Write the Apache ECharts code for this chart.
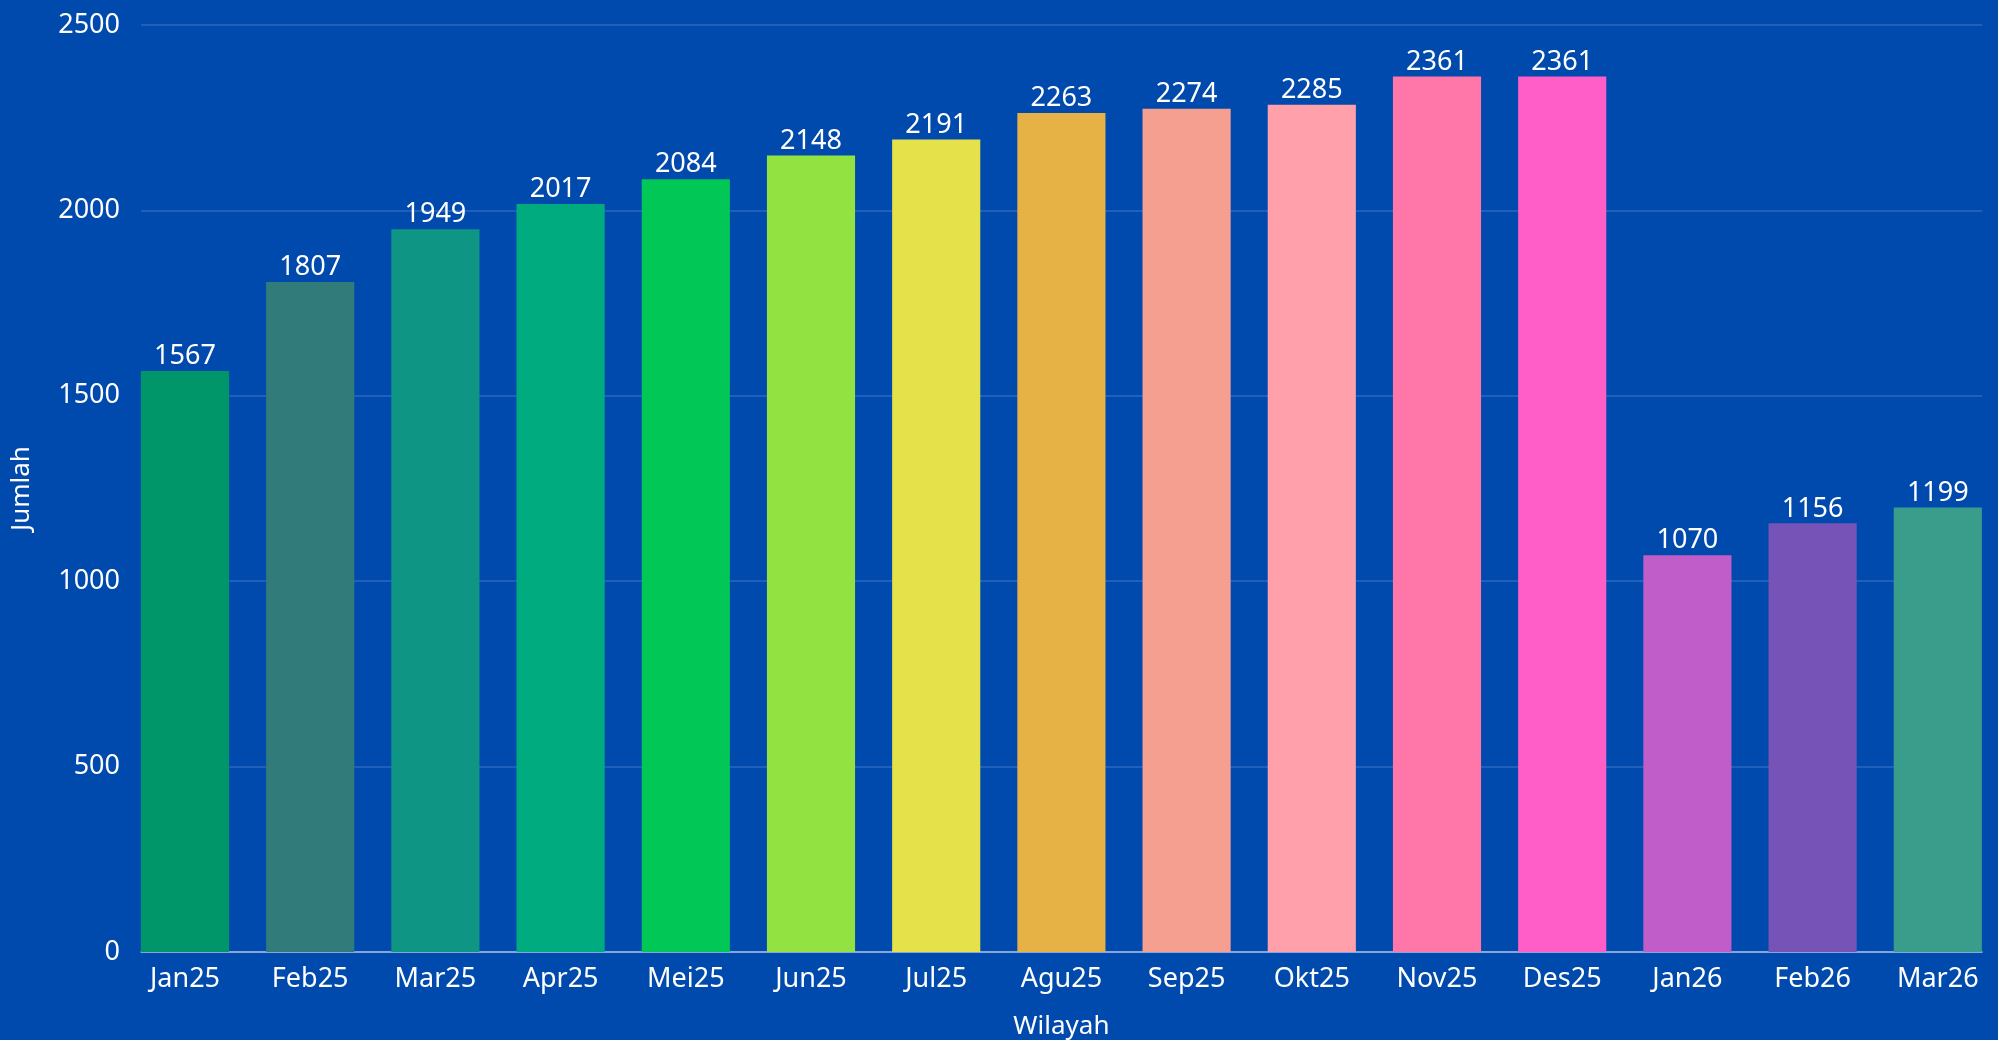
<!DOCTYPE html>
<html>
<head>
<meta charset="utf-8">
<script src="https://cdn.jsdelivr.net/npm/echarts@6/dist/echarts.min.js"></script>
<style>
  html, body { margin: 0; padding: 0; background: #004aad; }
  #chart { width: 1998px; height: 1040px; }
</style>
</head>
<body>
<div id="chart"></div>
<script>
const categories = ["Jan25", "Feb25", "Mar25", "Apr25", "Mei25", "Jun25", "Jul25", "Agu25", "Sep25", "Okt25", "Nov25", "Des25", "Jan26", "Feb26", "Mar26"]
const values = [1567, 1807, 1949, 2017, 2084, 2148, 2191, 2263, 2274, 2285, 2361, 2361, 1070, 1156, 1199]
const barColors = ["#00966a", "#317c7a", "#0f9584", "#00ab7f", "#00c756", "#92e342", "#e4e14a", "#e6b246", "#f49f90", "#ffa0aa", "#ff77a8", "#ff5ec8", "#c05dc8", "#7654b7", "#3a9c8b"]
const yMax = 2500
const yStep = 500

const font = "'Noto Sans', sans-serif"
const chart = echarts.init(document.getElementById("chart"))

// bars reach the ends of the plot, so the bar grid is widened by half a gap
// and a second grid carries the gridlines, y labels and the base line
const option = {
  backgroundColor: "#004aad",
  grid: [
    { left: 122.4, width: 1878, top: 25, bottom: 88, containLabel: false, outerBoundsMode: "none" },
    { left: 141, right: 16, top: 25, bottom: 88, containLabel: false, outerBoundsMode: "none" },
  ],
  xAxis: [
    {
      type: "category",
      gridIndex: 0,
      data: categories,
      name: "Wilayah",
      nameLocation: "middle",
      nameGap: 62,
      nameTextStyle: { color: "#ffffff", fontSize: 26, fontFamily: font },
      axisLine: { show: false },
      axisTick: { show: false },
      axisLabel: { color: "#ffffff", fontSize: 27, fontFamily: font, margin: 14 },
    },
    {
      type: "category",
      gridIndex: 1,
      data: categories,
      axisLine: { show: true, lineStyle: { color: "#a9bce6", width: 1.5 } },
      axisTick: { show: false },
      axisLabel: { show: false },
    },
  ],
  yAxis: [
    {
      type: "value",
      gridIndex: 0,
      min: 0,
      max: yMax,
      interval: yStep,
      show: false,
      splitLine: { show: false },
    },
    {
      type: "value",
      gridIndex: 1,
      min: 0,
      max: yMax,
      interval: yStep,
      name: "Jumlah",
      nameLocation: "middle",
      nameGap: 106,
      nameTextStyle: { color: "#ffffff", fontSize: 26, fontFamily: font },
      axisLine: { show: false },
      axisTick: { show: false },
      axisLabel: { color: "#ffffff", fontSize: 27, fontFamily: font, margin: 21, padding: [10, 0, 0, 0], formatter: (v) => String(v) },
      splitLine: { lineStyle: { color: "#2d67bd", width: 1.5 } },
    },
  ],
  series: [
    {
      type: "bar",
      xAxisIndex: 0,
      yAxisIndex: 0,
      z: 3,
      data: values.map((v, i) => ({ value: v, itemStyle: { color: barColors[i] } })),
      barCategoryGap: "29.6%",
      label: {
        show: true,
        position: "top",
        distance: 1,
        color: "#ffffff",
        fontSize: 27,
        fontFamily: font,
      },
    },
  ],
}

chart.setOption(option)
</script>
</body>
</html>
